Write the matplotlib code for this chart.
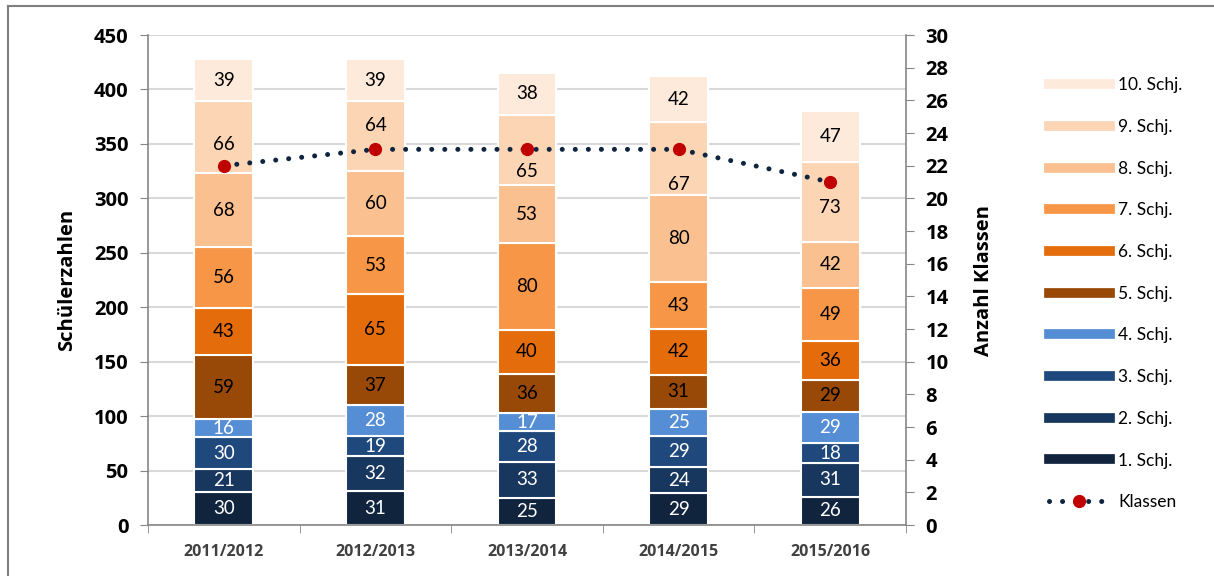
import matplotlib.pyplot as plt
from matplotlib.lines import Line2D
import numpy as np

# data
years = ['2011/2012', '2012/2013', '2013/2014', '2014/2015', '2015/2016']
grades = ['1. Schj.', '2. Schj.', '3. Schj.', '4. Schj.', '5. Schj.',
          '6. Schj.', '7. Schj.', '8. Schj.', '9. Schj.', '10. Schj.']
schj1 = [30, 31, 25, 29, 26]
schj2 = [21, 32, 33, 24, 31]
schj3 = [30, 19, 28, 29, 18]
schj4 = [16, 28, 17, 25, 29]
schj5 = [59, 37, 36, 31, 29]
schj6 = [43, 65, 40, 42, 36]
schj7 = [56, 53, 80, 43, 49]
schj8 = [68, 60, 53, 80, 42]
schj9 = [66, 64, 65, 67, 73]
schj10 = [39, 39, 38, 42, 47]
klassen = [22, 23, 23, 23, 21]

series = [schj1, schj2, schj3, schj4, schj5, schj6, schj7, schj8, schj9, schj10]
colors = ['#10243E', '#17375E', '#1F497D', '#558ED5', '#984807',
          '#E46C0A', '#F79646', '#FAC090', '#FCD5B5', '#FDEADA']
txt_colors = ['white'] * 4 + ['black'] * 6
# the 9. Schj. labels were moved by hand so the line doesn't cover them
label_shift = {8: [-7, 9.5, -19.5, -23.5, -4.5]}

plt.rcParams['font.family'] = ['Lato', 'DejaVu Sans']
BOLD = ['Open Sans', 'DejaVu Sans']

fig = plt.figure(figsize=(12.14, 5.76), dpi=100)
ax = fig.add_axes([0.1219, 0.0885, 0.6244, 0.8507])
x = np.arange(len(years))
bottom = np.zeros(len(years))
for i, (vals, col, tc) in enumerate(zip(series, colors, txt_colors)):
    bars = ax.bar(x, vals, width=0.387, bottom=bottom, color=col,
                  edgecolor='white', linewidth=1.5, zorder=2)
    shift = label_shift.get(i, [0] * len(vals))
    for b, v, s in zip(bars, vals, shift):
        ax.text(b.get_x() + b.get_width() / 2, b.get_y() + v / 2 + s, str(v),
                ha='center', va='center', fontsize=13.5, color=tc, zorder=3)
    bottom += np.array(vals)

ax.set_xlim(-0.5, len(years) - 0.5)
ax.set_ylim(0, 450)
ax.set_yticks(range(0, 451, 50))
ax.set_xticks(x)
ax.set_xticklabels(years, fontsize=11.5, fontweight='bold', color='#404040',
                   family=BOLD)
ax.set_xticks(np.arange(-0.5, len(years)), minor=True)
ax.tick_params(axis='x', which='major', length=0, pad=14)
ax.tick_params(axis='x', which='minor', length=6, color='#868686')
ax.tick_params(axis='y', length=6, color='#868686', labelsize=14.5, pad=8)
for lab in ax.get_yticklabels():
    lab.set_fontweight('bold')
    lab.set_family(BOLD)
ax.yaxis.grid(True, color='#D9D9D9', linewidth=1.5, zorder=0)
ax.set_axisbelow(True)
for s in ['top', 'right']:
    ax.spines[s].set_visible(False)
for s in ['left', 'bottom']:
    ax.spines[s].set_color('#868686')
    ax.spines[s].set_linewidth(1.2)
ax.set_ylabel('Schülerzahlen', fontsize=14.5, fontweight='bold', family=BOLD,
              labelpad=12)

ax2 = ax.twinx()
ax2.set_ylim(0, 30)
ax2.set_yticks(range(0, 31, 2))
ax2.tick_params(axis='y', length=6, color='#868686', labelsize=14.5, pad=8)
for lab in ax2.get_yticklabels():
    lab.set_fontweight('bold')
    lab.set_family(BOLD)
for s in ['top', 'left', 'bottom']:
    ax2.spines[s].set_visible(False)
ax2.spines['right'].set_color('#868686')
ax2.spines['right'].set_linewidth(1.2)
ax2.plot(x, klassen, color='#0F243E', linewidth=3.6, linestyle=(0, (0.01, 2.6)),
         dash_capstyle='round', marker='o', markersize=8.5,
         markerfacecolor='#C00000', markeredgecolor='#C00000', zorder=4)
ax2.set_ylabel('Anzahl Klassen', fontsize=14.5, fontweight='bold', family=BOLD,
               labelpad=18)

# legend
handles = [Line2D([], [], color=c, linewidth=7) for c in colors[::-1]]
handles.append(Line2D([], [], color='#0F243E', linewidth=3.6,
                      linestyle=(0, (0.01, 2.6)), dash_capstyle='round',
                      marker='o', markersize=8.5, markevery=[1],
                      markerfacecolor='#C00000', markeredgecolor='#C00000'))
labels = grades[::-1] + ['Klassen']
fig.legend(handles, labels, loc='upper left', bbox_to_anchor=(0.851, 0.893),
           frameon=False, fontsize=12.5, handlelength=3.5, handletextpad=0.5,
           labelspacing=1.48)

# outer frame
fig.add_artist(Line2D([8 / 1214, 1], [1 - 5.5 / 576] * 2, transform=fig.transFigure,
                      color='#7F7F7F', linewidth=1.5))
fig.add_artist(Line2D([8 / 1214] * 2, [0, 1 - 5.5 / 576], transform=fig.transFigure,
                      color='#7F7F7F', linewidth=1.5))

fig.savefig('out.png', dpi=100)
